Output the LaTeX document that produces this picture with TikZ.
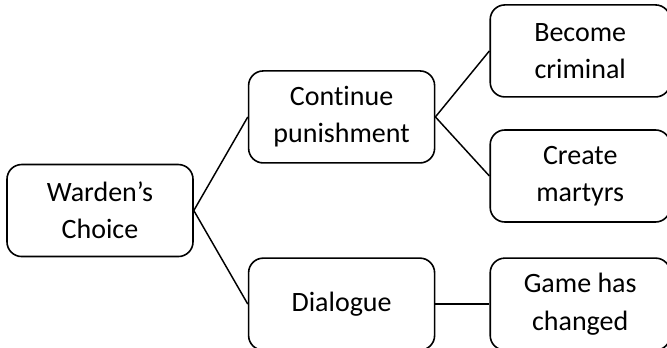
\documentclass[tikz,border=0pt]{standalone}
\usepackage{fontspec}
\setmainfont[Ligatures=NoCommon]{Carlito}
\usetikzlibrary{positioning}

\begin{document}
\begin{tikzpicture}[
  box/.style  = {
    rectangle, draw=black, line width=1.2pt,
    rounded corners=11pt, align=center,
    minimum width=139.5pt, minimum height=69pt,
    font=\fontsize{21}{28}\selectfont
  },
  boxr/.style = {box, minimum width=135pt},
  conn/.style = {line width=1.1pt},
  node distance = 0pt and 40.5pt
]
\useasboundingbox (0,0) rectangle (500.25pt,-261pt);

% Decision root
\node[box] (war) at (75pt,-157.9pt) {Warden's\\Choice};

% Options
\node[box, above right=0pt and 40.5pt of war] (cont) {Continue\\punishment};
\node[box, below right=0pt and 40.5pt of war] (dia)  {Dialogue};

% Outcomes
\node[boxr, right=40.5pt of cont, yshift=49.5pt]  (crim) {Become\\criminal};
\node[boxr, right=40.5pt of cont, yshift=-44.3pt] (mart) {Create\\martyrs};
\node[boxr, right=40.5pt of dia]                  (game) {Game has\\changed};

% Connectors
\draw[conn] (war.east)  -- (cont.west);
\draw[conn] (war.east)  -- (dia.west);
\draw[conn] (cont.east) -- (crim.west);
\draw[conn] (cont.east) -- (mart.west);
\draw[conn] (dia.east)  -- (game.west);

\end{tikzpicture}
\end{document}
